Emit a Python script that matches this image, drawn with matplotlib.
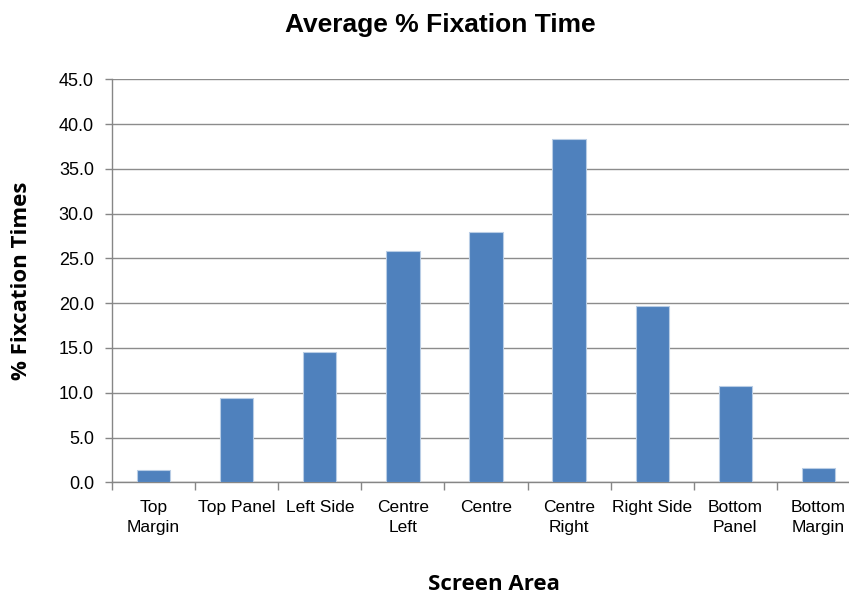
import matplotlib.pyplot as plt
import numpy as np
from matplotlib import font_manager

areas = ['Top\nMargin', 'Top Panel', 'Left Side', 'Centre\nLeft', 'Centre',
         'Centre\nRight', 'Right Side', 'Bottom\nPanel', 'Bottom\nMargin']
fixation = [1.4, 9.4, 14.5, 25.8, 28.0, 38.3, 19.7, 10.8, 1.6]
y_ticks = [0, 5, 10, 15, 20, 25, 30, 35, 40, 45]

names = {f.name for f in font_manager.fontManager.ttflist}
narrow = 'Liberation Sans Narrow' if 'Liberation Sans Narrow' in names else 'Liberation Sans'

fig = plt.figure(figsize=(8.49, 5.96), dpi=100)
ax = fig.add_axes([112/849, 113.7/596, 748/849, 403/596])

x = np.arange(len(areas))
ax.bar(x, fixation, width=0.4, color='#4F81BD', edgecolor='#B9CDE5',
       linewidth=0.8, zorder=3)

ax.set_xlim(-0.5, len(areas) - 0.5)
ax.set_ylim(0, 45)
ax.set_yticks(y_ticks)
ax.set_yticklabels([f'{v:.1f}' for v in y_ticks], family=narrow, fontsize=13)
ax.set_xticks(x)
ax.set_xticklabels(areas, family=narrow, fontsize=12.5, linespacing=1.4)
ax.set_xticks(np.arange(len(areas) + 1) - 0.5, minor=True)
ax.tick_params(axis='x', which='major', length=0, pad=13)
ax.tick_params(axis='x', which='minor', length=6, color='#868686', width=1)
ax.tick_params(axis='y', length=5, color='#868686', width=1, pad=8)

ax.grid(axis='y', color='#8C8C8C', linewidth=1, zorder=0)
for side in ['top', 'right']:
    ax.spines[side].set_visible(False)
for side in ['left', 'bottom']:
    ax.spines[side].set_color('#868686')
    ax.spines[side].set_linewidth(1)

fig.text(440/849, 1 - 25/596, 'Average % Fixation Time', ha='center', va='center',
         family=narrow, fontsize=19, fontweight='bold')
fig.text(494/849, 1 - 584/596, 'Screen Area', ha='center', va='center',
         family='Open Sans', fontsize=16, fontweight='bold')
fig.text(22/849, 1 - 281/596, '% Fixcation Times', ha='center', va='center',
         rotation=90, family='Open Sans', fontsize=16, fontweight='bold')

fig.savefig('out.png', dpi=100)
